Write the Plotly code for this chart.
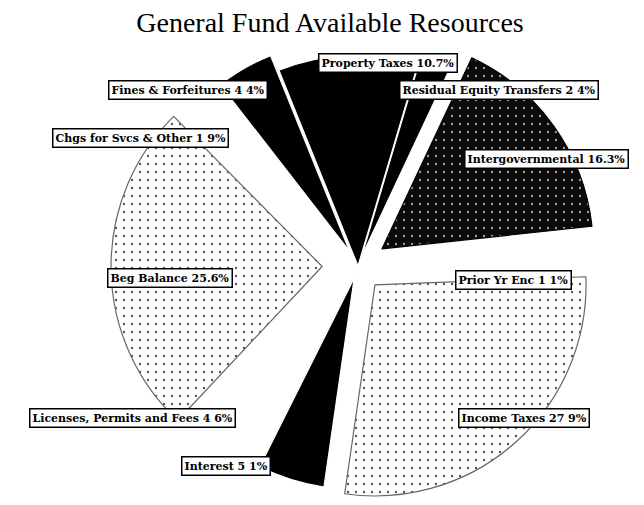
import plotly.graph_objects as go

categories = ["Property Taxes", "Residual Equity Transfers", "Intergovernmental",
              "Prior Yr Enc", "Income Taxes", "Interest",
              "Licenses, Permits and Fees", "Beg Balance",
              "Chgs for Svcs & Other", "Fines & Forfeitures"]
shares = [10.7, 2.4, 16.3, 1.1, 27.9, 5.1, 4.6, 25.6, 1.9, 4.4]
label_texts = ["Property Taxes 10.7%", "Residual Equity Transfers 2 4%",
               "Intergovernmental 16.3%", "Prior Yr Enc 1 1%",
               "Income Taxes 27 9%", "Interest 5 1%",
               "Licenses, Permits and Fees 4 6%", "Beg Balance 25.6%",
               "Chgs for Svcs & Other 1 9%", "Fines & Forfeitures 4 4%"]

W, H = 644, 505
colors = ["#000000", "#000000", "#0a0a0a", "#ffffff", "#ffffff",
          "#000000", "#ffffff", "#ffffff", "#ffffff", "#000000"]
pulls = [0.0, 0.05, 0.14, 0.1, 0.12, 0.06, 0.1, 0.17, 0.1, 0.08]
shapes = ["", "", ".", "", ".", "", "", ".", "", ""]
fg = ["#000", "#000", "#9a9a9a", "#000", "#555555", "#000", "#000", "#555555", "#000", "#000"]
bg = ["#000", "#000", "#0a0a0a", "#fff", "#ffffff", "#000", "#fff", "#ffffff", "#fff", "#000"]
edge = ["#fff", "#fff", "#000", "#fff", "#666", "#fff", "#fff", "#666", "#fff", "#fff"]

fig = go.Figure(go.Pie(
    labels=categories, values=shares, sort=False, direction="clockwise",
    rotation=-22, pull=pulls, textinfo="none", hoverinfo="label+percent",
    marker=dict(colors=colors, line=dict(color=edge, width=1.2),
                pattern=dict(shape=shapes, fgcolor=fg, bgcolor=bg, size=8,
                             solidity=0.07)),
    domain=dict(x=[103 / W, 597 / W], y=[0, 1 - 11 / H]),
    showlegend=False,
))

# label box positions (pixel centres), layout only
label_pos = [(380, 55), (491, 82), (538, 151), (505, 272), (516, 410),
             (218, 458), (124, 410), (162, 270), (132, 130), (180, 82)]

anns = []
for txt, (px, py) in zip(label_texts, label_pos):
    anns.append(dict(x=px / W, y=1 - py / H, xref="paper", yref="paper",
                     xanchor="center", yanchor="middle",
                     text="<b>" + txt + "</b>", showarrow=False, bgcolor="#ffffff",
                     bordercolor="#000000", borderwidth=1.5, borderpad=2,
                     font=dict(family="DejaVu Serif", size=11, color="#000")))

fig.update_layout(
    width=W, height=H, margin=dict(l=0, r=0, t=0, b=0),
    paper_bgcolor="#ffffff", plot_bgcolor="#ffffff",
    title=dict(text="General Fund Available Resources", x=322 / W, y=1 - 14 / H,
               xanchor="center", yanchor="middle",
               font=dict(family="Liberation Serif", size=28, color="#000")),
    annotations=anns,
)

fig.write_html("out.html")
